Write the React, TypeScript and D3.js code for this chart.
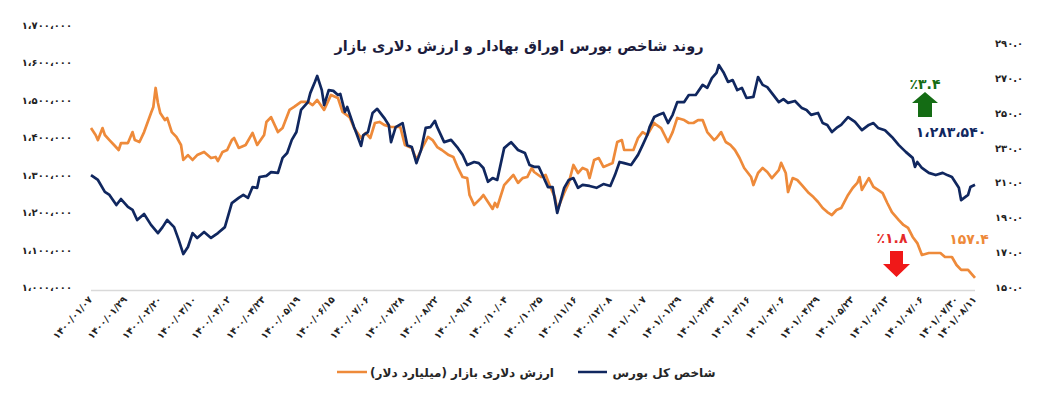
import * as d3 from 'd3';

// شاخص کل بورس (هزار واحد) — [روز معاملاتی، مقدار]
const indexSeries: [number, number][] = [
  [0, 1299], [3, 1286], [6, 1254], [8, 1246], [11, 1219], [13, 1235], [16, 1214], [18, 1206], [20, 1179], [23, 1195],
  [26, 1166], [29, 1144], [31, 1160], [33, 1179], [36, 1160], [38, 1126], [40, 1088], [42, 1107], [44, 1144], [46, 1131],
  [49, 1147], [52, 1131], [55, 1144], [58, 1160], [61, 1224], [64, 1238], [66, 1246], [68, 1238], [70, 1267], [72, 1265],
  [73, 1294], [76, 1297], [78, 1307], [81, 1305], [83, 1345], [85, 1358], [87, 1393], [89, 1414], [91, 1473], [94, 1494],
  [95, 1518], [97, 1548], [98, 1564], [100, 1526], [101, 1486], [103, 1526], [105, 1524], [107, 1513], [108, 1516], [110, 1468],
  [111, 1481], [114, 1427], [115, 1411], [117, 1377], [118, 1406], [120, 1414], [122, 1465], [124, 1476], [127, 1452], [129, 1433],
  [130, 1387], [132, 1427], [135, 1438], [137, 1379], [139, 1374], [141, 1331], [143, 1366], [145, 1425], [147, 1427], [149, 1444],
  [150, 1427], [153, 1387], [156, 1393], [159, 1371], [161, 1353], [163, 1326], [166, 1334], [168, 1331], [170, 1318], [172, 1281],
  [174, 1291], [176, 1286], [179, 1371], [182, 1387], [185, 1366], [188, 1358], [190, 1326], [192, 1321], [194, 1321], [196, 1294],
  [198, 1267], [200, 1267], [202, 1198], [205, 1265], [207, 1286], [209, 1291], [211, 1265], [213, 1273], [216, 1270], [219, 1265],
  [222, 1275], [225, 1270], [227, 1299], [229, 1334], [231, 1331], [234, 1326], [237, 1353], [239, 1379], [241, 1406], [242, 1427],
  [244, 1454], [246, 1460], [248, 1465], [250, 1438], [252, 1460], [254, 1494], [257, 1494], [259, 1513], [262, 1513], [265, 1540],
  [267, 1532], [269, 1558], [271, 1572], [272, 1593], [274, 1574], [276, 1548], [278, 1553], [280, 1526], [282, 1532], [284, 1505],
  [287, 1508], [289, 1561], [291, 1540], [293, 1534], [295, 1518], [298, 1494], [300, 1502], [302, 1492], [305, 1497], [308, 1478],
  [310, 1473], [312, 1460], [315, 1465], [317, 1438], [319, 1433], [321, 1414], [323, 1425], [325, 1433], [328, 1454], [331, 1441],
  [334, 1419], [337, 1433], [339, 1438], [341, 1425], [344, 1419], [347, 1401], [350, 1379], [353, 1361], [356, 1345], [357, 1321],
  [358, 1334], [360, 1318], [363, 1305], [366, 1299], [369, 1305], [371, 1299], [373, 1294], [376, 1265], [377, 1232], [380, 1246],
  [381, 1267], [383, 1273],
];

// ارزش دلاری بازار (میلیارد دلار)
const dollarSeries: [number, number][] = [
  [0, 241.2], [2, 237.2], [3, 234.3], [5, 241.2], [6, 237.2], [8, 234.3], [10, 231.5], [12, 228.6], [13, 232.6], [16, 232.6],
  [18, 238.9], [19, 234.3], [21, 233.2], [23, 238.9], [26, 249.8], [27, 253.3], [28, 264.2], [29, 255.6], [30, 249.8], [32, 245.8],
  [33, 247], [35, 238.9], [37, 236.1], [39, 231.5], [40, 222.9], [42, 225.7], [44, 222.9], [46, 225.7], [49, 227.5], [52, 224],
  [54, 224.6], [55, 222.3], [57, 227.5], [59, 228.6], [61, 234.3], [62, 235.5], [64, 229.8], [67, 231.5], [70, 238.4], [72, 231.5],
  [75, 237.2], [76, 244.7], [78, 247.5], [81, 238.9], [83, 241.2], [84, 244.7], [86, 251.6], [88, 253.3], [91, 256.2], [94, 256.2],
  [96, 254.4], [98, 257.3], [101, 251.6], [104, 260.2], [107, 258.4], [109, 250.4], [112, 247.5], [114, 241.2], [117, 235.5], [119, 238.4],
  [121, 235.5], [123, 244.1], [125, 244.7], [127, 243], [130, 241.8], [132, 241.8], [134, 241.8], [136, 231.5], [139, 229.8], [141, 222.9],
  [143, 228.6], [146, 236.1], [148, 234.3], [150, 230.3], [152, 228.6], [155, 225.7], [157, 224.6], [159, 218.3], [161, 213.1], [163, 212.5],
  [164, 202.8], [166, 197.1], [169, 201.1], [170, 202.8], [172, 198.8], [174, 194.8], [175, 198.2], [176, 195.9], [179, 208.5], [181, 211.4],
  [183, 214.3], [185, 209.7], [187, 212.5], [189, 213.1], [191, 218.3], [192, 216], [195, 213.1], [197, 214.3], [199, 207.4], [201, 201.6],
  [202, 194.2], [205, 203.9], [207, 209.7], [209, 220], [211, 215.4], [213, 218.3], [215, 217.1], [216, 212.5], [218, 222.9], [220, 224],
  [222, 218.9], [224, 220], [226, 221.2], [228, 233.2], [230, 234.3], [231, 228.6], [235, 228.6], [237, 235.5], [239, 238.9], [241, 237.2],
  [244, 244.1], [245, 243], [247, 241.2], [250, 233.2], [252, 238.9], [254, 247], [257, 245.8], [259, 244.1], [261, 244.1], [263, 245.8],
  [265, 245.8], [267, 238.9], [270, 234.3], [271, 235.5], [273, 238.9], [275, 233.2], [277, 231.5], [279, 228.6], [281, 224], [283, 218.3],
  [286, 213.1], [287, 208.5], [289, 215.4], [291, 218.3], [293, 216], [295, 212.5], [298, 217.1], [299, 221.2], [301, 215.4], [302, 204.5],
  [304, 212.5], [306, 211.4], [308, 208.5], [311, 203.9], [313, 201.6], [315, 198.8], [317, 195.3], [319, 193], [321, 191.3], [323, 194.2],
  [325, 195.3], [328, 202.8], [330, 206.8], [332, 209.7], [333, 213.1], [334, 205.7], [337, 212.5], [339, 207.4], [341, 205.7], [343, 203.9],
  [345, 198.2], [347, 193], [350, 188.4], [352, 185.6], [354, 183.9], [356, 178.7], [358, 175.2], [360, 168.4], [363, 169.5], [365, 169.5],
  [368, 169.5], [370, 167.2], [373, 167.2], [375, 162.6], [377, 159.8], [380, 159.8], [383, 155.2],
];

const dateLabels = [
  '1400/01/07', '1400/01/29', '1400/02/20', '1400/03/10', '1400/04/02', '1400/04/23', '1400/05/19',
  '1400/06/15', '1400/07/06', '1400/07/28', '1400/08/22', '1400/09/13', '1400/10/04', '1400/10/25',
  '1400/11/16', '1400/12/08', '1401/01/07', '1401/01/29', '1401/02/24', '1401/03/16', '1401/04/06',
  '1401/04/29', '1401/05/23', '1401/06/13', '1401/07/06', '1401/07/30', '1401/08/11',
];
const dateDays = [0, 15, 30, 45, 60, 75, 90, 105, 120, 135, 150, 165, 180, 195, 210, 225, 240, 255, 270, 285, 300, 315, 330, 345, 360, 375, 383];

const leftTicks = [1000, 1100, 1200, 1300, 1400, 1500, 1600, 1700];
const rightTicks = [150, 170, 190, 210, 230, 250, 270, 290];

const BLUE = '#10275f';
const ORANGE = '#ee8a3a';
const FONT = "'DejaVu Sans', sans-serif";

const fa = (s: string) => s.replace(/\d/g, (c) => '۰۱۲۳۴۵۶۷۸۹'[+c]);

export default function App() {
  const width = 1046;
  const height = 393;

  const x = d3.scaleLinear().domain([0, 383]).range([91, 975]);
  const yLeft = d3.scaleLinear().domain([1000, 1700]).range([287, 25]);
  const yRight = d3.scaleLinear().domain([150, 290]).range([287, 43]);

  const indexLine = d3.line<[number, number]>().x((d) => x(d[0])).y((d) => yLeft(d[1]));
  const dollarLine = d3.line<[number, number]>().x((d) => x(d[0])).y((d) => yRight(d[1]));

  return (
    <svg width={width} height={height} style={{ position: 'absolute', left: 0, top: 0, background: '#fff' }} fontFamily={FONT}>
      <text x={519} y={51} textAnchor="middle" direction="rtl" fontSize={14.5} fontWeight="bold" fill="#1c1c3c">
        روند شاخص بورس اوراق بهادار و ارزش دلاری بازار
      </text>

      {leftTicks.map((t) => (
        <text key={t} x={72} y={yLeft(t) + 4} textAnchor="end" fontSize={10} fontWeight="bold" fill="#222">
          {fa(d3.format(',')(t * 1000).replace(/,/g, '،'))}
        </text>
      ))}
      {rightTicks.map((t) => (
        <text key={t} x={995} y={yRight(t) + 4} textAnchor="start" fontSize={10} fontWeight="bold" fill="#222">
          {fa(t.toFixed(1))}
        </text>
      ))}

      <line x1={91} x2={975} y1={290.5} y2={290.5} stroke="#d9d9d9" strokeWidth={1.5} />

      {dateLabels.map((l, i) => (
        <text
          key={l}
          transform={`translate(${x(dateDays[i]) + 2},${300}) rotate(-48)`}
          textAnchor="end"
          fontSize={9.5}
          fontWeight="bold"
          fill="#222"
        >
          {fa(l)}
        </text>
      ))}

      <path d={dollarLine(dollarSeries) ?? ''} fill="none" stroke={ORANGE} strokeWidth={2.7} strokeLinejoin="round" />
      <path d={indexLine(indexSeries) ?? ''} fill="none" stroke={BLUE} strokeWidth={2.7} strokeLinejoin="round" />

      {/* annotations */}
      <text x={925} y={89} textAnchor="middle" fontSize={14} fontWeight="bold" fill="#146c14">
        {'٪' + fa('3.4')}
      </text>
      <path d="M912,103 L925,92 L938,103 L932,103 L932,117 L918,117 L918,103 Z" fill="#146c14" />
      <text x={951} y={137} textAnchor="middle" fontSize={14} fontWeight="bold" fill={BLUE}>
        {fa('1،283،540')}
      </text>

      <text x={892} y={243} textAnchor="middle" fontSize={14} fontWeight="bold" fill="#e52b2b">
        {'٪' + fa('1.8')}
      </text>
      <path d="M890,251 L903,251 L903,264 L910,264 L896.5,277 L883,264 L890,264 Z" fill="#f01818" />
      <text x={969} y={244} textAnchor="middle" fontSize={14} fontWeight="bold" fill={ORANGE}>
        {fa('157.4')}
      </text>

      {/* legend */}
      <line x1={337} x2={367} y1={372} y2={372} stroke={ORANGE} strokeWidth={2.5} />
      <text x={462} y={377} textAnchor="middle" direction="rtl" fontSize={12} fontWeight="bold" fill="#262626">
        ارزش دلاری بازار (میلیارد دلار)
      </text>
      <line x1={578} x2={607} y1={372} y2={372} stroke={BLUE} strokeWidth={2.5} />
      <text x={664} y={377} textAnchor="middle" direction="rtl" fontSize={12} fontWeight="bold" fill="#262626">
        شاخص کل بورس
      </text>
    </svg>
  );
}
